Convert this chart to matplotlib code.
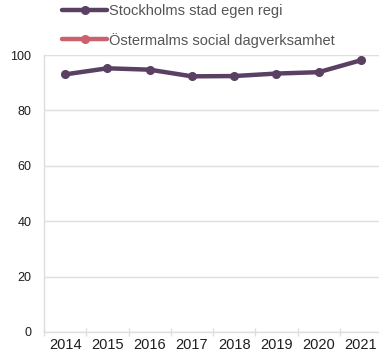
import matplotlib
matplotlib.use("Agg")
import matplotlib.pyplot as plt
import numpy as np

years = ["2014", "2015", "2016", "2017", "2018", "2019", "2020", "2021"]
stockholm = [93.0, 95.2, 94.7, 92.3, 92.4, 93.3, 93.8, 98.1]
ostermalm = [np.nan] * len(years)  # no values reported

purple = "#5a4062"
pink = "#c9626d"
grid_c = "#dedede"

plt.rcParams["font.family"] = ["Liberation Sans", "DejaVu Sans"]

fig = plt.figure(figsize=(3.79, 3.60), dpi=100)
W, H = 379, 360
ax = fig.add_axes([44 / W, 1 - 332 / H, 338 / W, 277 / H])

x = np.arange(len(years))
ax.plot(x, ostermalm, color=pink, lw=3.2, marker="o", ms=5.5,
        label="Östermalms social dagverksamhet", solid_capstyle="round")
ax.plot(x, stockholm, color=purple, lw=3.2, marker="o", ms=5.5,
        label="Stockholms stad egen regi", solid_capstyle="round",
        solid_joinstyle="round", zorder=3)

ax.set_xlim(-0.5, len(years) - 0.5)
ax.set_ylim(0, 100)
ax.set_yticks([0, 20, 40, 60, 80, 100])
ax.set_xticks(x)
ax.set_xticklabels(years)
ax.set_xticks(np.arange(len(years)) - 0.5, minor=True)
ax.tick_params(axis="x", which="major", length=0, pad=4, labelsize=10.5, labelcolor="#1e1e1e")
ax.tick_params(axis="x", which="minor", length=6, direction="inout", color=grid_c, width=1)
ax.tick_params(axis="y", length=0, pad=9, labelsize=9, labelcolor="#1e1e1e")

ax.grid(axis="y", color=grid_c, lw=1)
ax.set_axisbelow(True)
for s in ["top", "right"]:
    ax.spines[s].set_visible(False)
for s in ["left", "bottom"]:
    ax.spines[s].set_color(grid_c)
    ax.spines[s].set_linewidth(1)

h, l = ax.get_legend_handles_labels()
leg = fig.legend(h[::-1], l[::-1], loc="upper left",
                 bbox_to_anchor=(62 / W, 1 - 4 / H), frameon=False,
                 handlelength=3.1, handletextpad=0.1, labelspacing=1.0,
                 borderpad=0, borderaxespad=0, fontsize=10.5)
for t in leg.get_texts():
    t.set_color("#555555")

fig.savefig("out.png", dpi=100)
